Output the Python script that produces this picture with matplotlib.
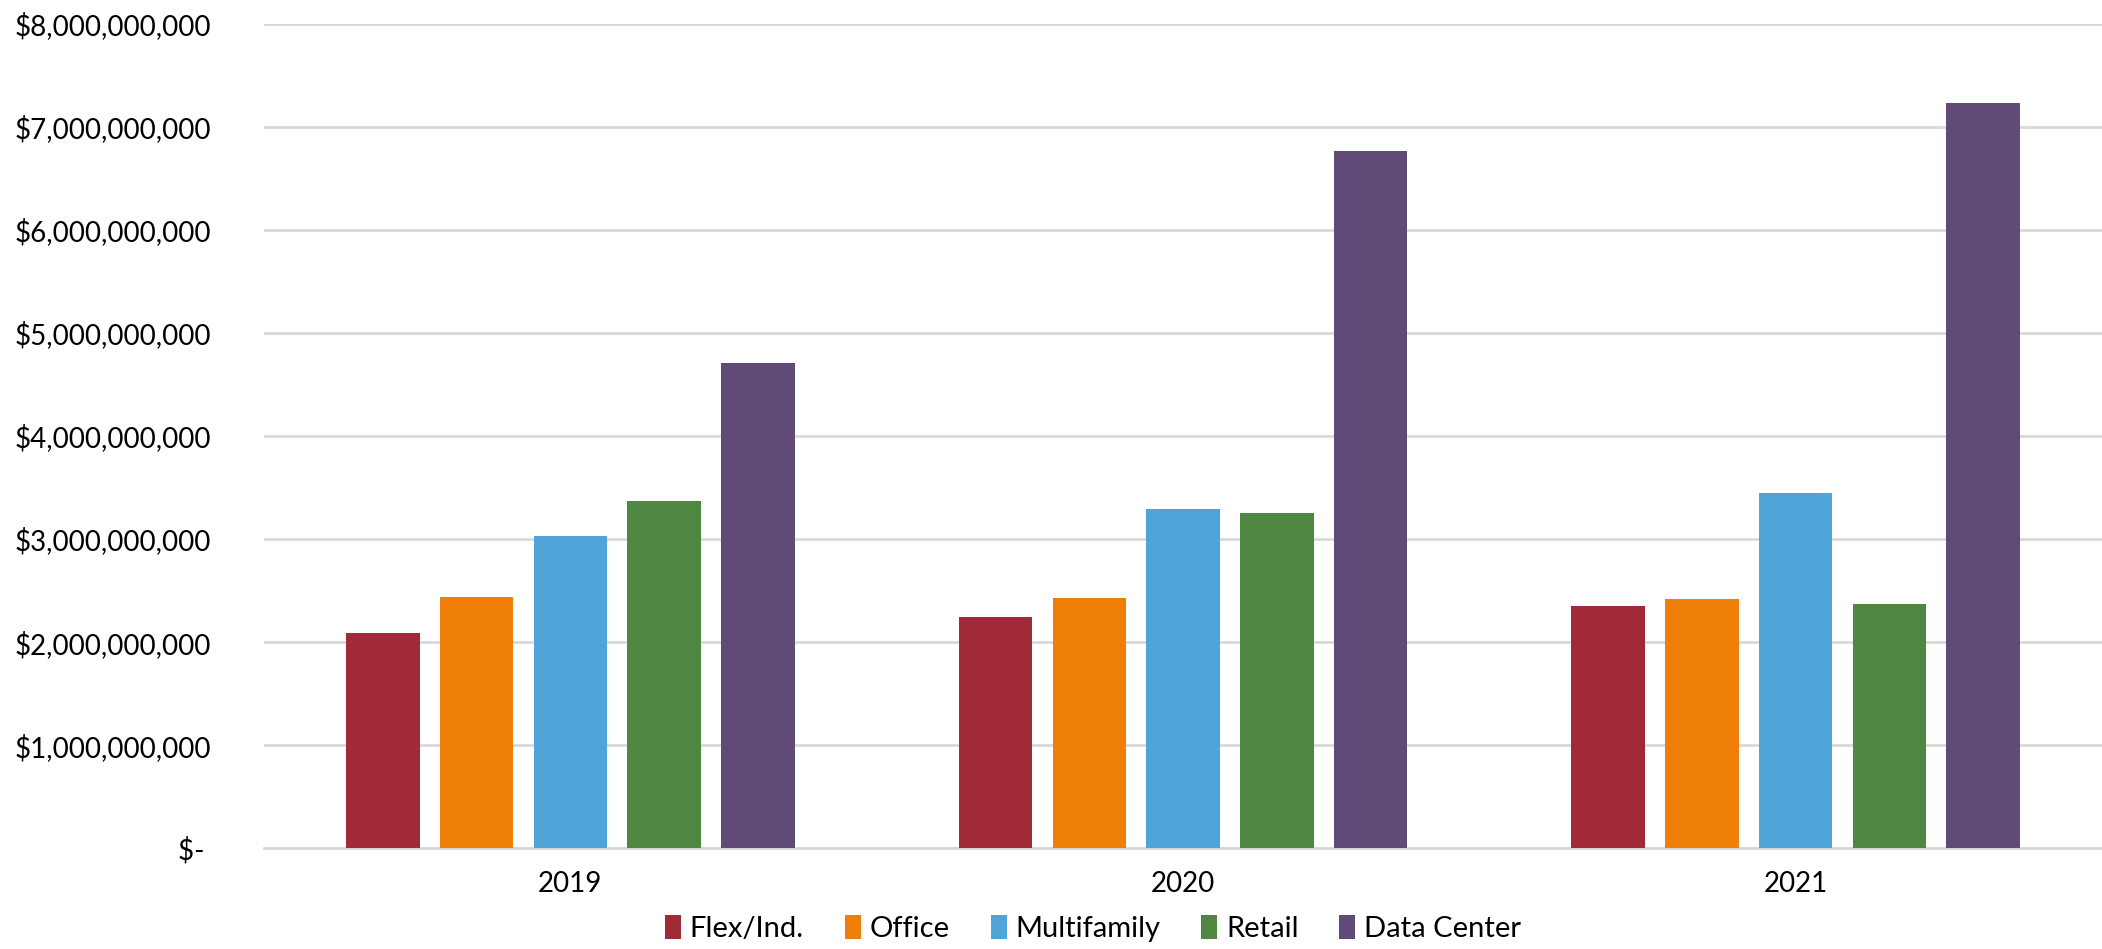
import numpy as np
import matplotlib
matplotlib.use("Agg")
import matplotlib.pyplot as plt
from matplotlib.ticker import FuncFormatter

years = ["2019", "2020", "2021"]
series = ["Flex/Ind.", "Office", "Multifamily", "Retail", "Data Center"]

flex = [2.088e9, 2.24e9, 2.35e9]
office = [2.44e9, 2.431e9, 2.415e9]
multifamily = [3.032e9, 3.288e9, 3.443e9]
retail = [3.366e9, 3.249e9, 2.37e9]
data_center = [4.707e9, 6.76e9, 7.23e9]

colors = ["#A12A39", "#F07F09", "#4FA5D8", "#4F8642", "#604A78"]


def money(v, pos):
    if abs(v) < 1:
        return "$- "
    return "${:,.0f}".format(v)


def main():
    plt.rcParams["font.family"] = ["Lato", "DejaVu Sans"]
    fig = plt.figure(figsize=(21.02, 9.49), dpi=100)
    ax = fig.add_axes([0.1256, 0.1061, 0.8744, 0.8691])

    values = [flex, office, multifamily, retail, data_center]
    x = np.arange(len(years))
    pitch = 0.153
    width = 0.12
    for i, (name, vals) in enumerate(zip(series, values)):
        ax.bar(x + (i - 2) * pitch, vals, width, color=colors[i], label=name, zorder=3)

    ax.set_xlim(-0.5, 2.5)
    ax.set_ylim(0, 8e9)
    ax.set_yticks(np.arange(0, 8.01e9, 1e9))
    ax.yaxis.set_major_formatter(FuncFormatter(money))
    ax.set_xticks(x)
    ax.set_xticklabels(years)
    ax.tick_params(axis="both", length=0, labelsize=20, colors="black")
    ax.tick_params(axis="y", pad=38)
    ax.tick_params(axis="x", pad=16)

    ax.grid(axis="y", color="#D9D9D9", linewidth=2, zorder=0)
    for s in ["top", "right", "left"]:
        ax.spines[s].set_visible(False)
    ax.spines["bottom"].set_color("#D9D9D9")
    ax.spines["bottom"].set_linewidth(2)

    fig.legend(loc="center", bbox_to_anchor=(0.52, 0.022), ncol=5, frameon=False,
               fontsize=21, handlelength=0.55, handleheight=0.9, handletextpad=0.3,
               columnspacing=1.4)

    fig.savefig("out.png", dpi=100, facecolor="white")


if __name__ == '__main__':
    main()
